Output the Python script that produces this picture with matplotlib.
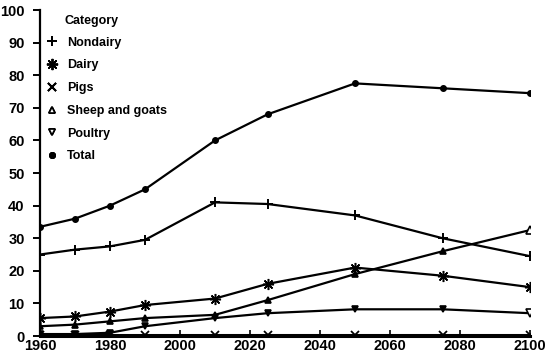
import matplotlib
matplotlib.use('Agg')
import matplotlib.pyplot as plt

years = [1960, 1970, 1980, 1990, 2010, 2025, 2050, 2075, 2100]
nondairy = [25, 26.5, 27.5, 29.5, 41, 40.5, 37, 30, 24.5]
dairy = [5.5, 6, 7.5, 9.5, 11.5, 16, 21, 18.5, 15]
pigs = [0.4, 0.4, 0.4, 0.4, 0.4, 0.4, 0.4, 0.4, 0.4]
sheep = [3, 3.5, 4.5, 5.5, 6.5, 11, 19, 26, 32.5]
poultry = [0.6, 0.6, 1, 3, 5.5, 7, 8.2, 8.2, 7]
total = [33.5, 36, 40, 45, 60, 68, 77.5, 76, 74.5]

plt.rcParams['font.family'] = ['Liberation Sans', 'DejaVu Sans']
plt.rcParams['font.weight'] = 'bold'

fig = plt.figure(figsize=(5.5, 3.59), dpi=100)
ax = fig.add_axes([0.0727, 0.064, 0.891, 0.908])

lw = 1.6
ax.plot(years, nondairy, color='black', lw=lw, marker='+', ms=7, mew=1.4, label='Nondairy')
ax.plot(years, dairy, color='black', lw=lw, marker=(8, 2, 0), ms=8, mew=1.1, label='Dairy')
ax.plot(years, pigs, color='black', lw=2.2, marker='x', ms=6, mew=1.3, label='Pigs')
ax.plot(years, sheep, color='black', lw=lw, marker='^', ms=5, mfc='black', mew=1.2,
        markevery=slice(0, -1), label='Sheep and goats')
ax.plot(years, poultry, color='black', lw=lw, marker='v', ms=5, mfc='black', mew=1.2,
        markevery=slice(0, -1), label='Poultry')
ax.plot(years, total, color='black', lw=lw, marker='o', ms=4, label='Total')
# last points drawn as open markers, as in the original
ax.plot(years[-1], sheep[-1], marker='^', ms=6, mfc='white', mec='black', mew=1.2, ls='none')
ax.plot(years[-1], poultry[-1], marker='v', ms=6, mfc='white', mec='black', mew=1.2, ls='none')

ax.set_xlim(1960, 2100)
ax.set_ylim(0, 100)
ax.set_xticks(range(1960, 2101, 20))
ax.set_yticks(range(0, 101, 10))
ax.spines['top'].set_visible(False)
ax.spines['right'].set_visible(False)
ax.spines['left'].set_linewidth(1.6)
ax.spines['bottom'].set_linewidth(2.2)
ax.tick_params(axis='y', direction='out', length=5, width=1.4, labelsize=10.5, pad=6)
ax.tick_params(axis='x', direction='in', length=4, width=1.2, labelsize=10.5, pad=2)
for lab in ax.get_xticklabels() + ax.get_yticklabels():
    lab.set_fontweight('bold')

handles, labels = ax.get_legend_handles_labels()
leg = ax.legend(handles[:6], labels[:6], loc='upper left',
                bbox_to_anchor=(0.006, 0.945), frameon=False, fontsize=9,
                handlelength=0, handletextpad=1.2,
                labelspacing=0.86, borderpad=0.2)
for h in leg.legend_handles:
    h.set_linestyle('none')
    h.set_markevery(None)
leg.legend_handles[3].set_markerfacecolor('white')
leg.legend_handles[4].set_markerfacecolor('white')
ax.text(0.051, 0.966, 'Category', transform=ax.transAxes, fontsize=9,
        fontweight='bold', ha='left', va='center')

fig.savefig('out.png', dpi=100)
